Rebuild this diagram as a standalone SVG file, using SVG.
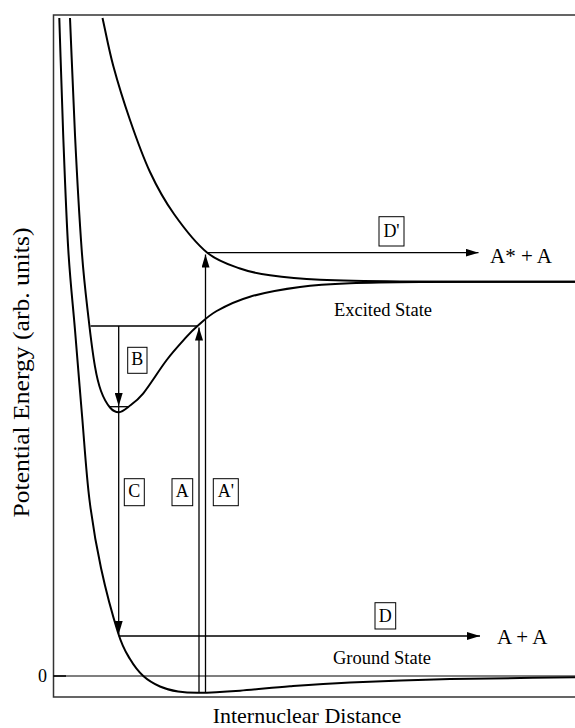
<svg xmlns="http://www.w3.org/2000/svg" width="575" height="728" viewBox="0 0 575 728">
<style>
text{font-family:"Liberation Serif","Times New Roman",serif;fill:#000}
.curve{fill:none;stroke:#000;stroke-width:2}
.ln{fill:none;stroke:#000;stroke-width:1.3}
.arr{fill:none;stroke:#000;stroke-width:1.3;marker-end:url(#ah)}
.box{fill:#fff;stroke:#000;stroke-width:1}
.lbl{font-size:18px;text-anchor:middle}
.big{font-size:21px}
.state{font-size:18.5px;text-anchor:middle}
</style>
<defs>
<marker id="ah" markerWidth="14" markerHeight="8" refX="13" refY="4" orient="auto" markerUnits="userSpaceOnUse"><path d="M0,0 L13,4 L0,8 z" fill="#000"/></marker>
</defs>
<rect width="575" height="728" fill="#fff"/>
<g id="frame">
<path d="M575,15 H53.5 V697 H575" fill="none" stroke="#333" stroke-width="1.5"/>
<line x1="53.5" y1="676" x2="575" y2="676" stroke="#000" stroke-width="1.2"/>
<line x1="53.5" y1="676" x2="66" y2="676" stroke="#000" stroke-width="1.5"/>
<text x="47" y="682" font-size="18" text-anchor="end">0</text>
<text transform="translate(28.5,372.5) rotate(-90)" font-size="23" text-anchor="middle" textLength="290" lengthAdjust="spacingAndGlyphs">Potential Energy (arb. units)</text>
<text x="307" y="722.5" font-size="22" text-anchor="middle">Internuclear Distance</text>
</g>
<g id="ground-state">
<path class="curve" d="M59.3,18 C60.6,57 61.7,96.3 63.2,135 S66.3,217.5 68.3,250 S72.7,302.5 75,330 S79.6,386.7 82,415 S86.3,474.5 89.5,500 S96.2,545.8 101,568 S113.5,618.3 118.3,633.5 S125.8,651.9 130,659 S138.3,671.4 143.3,676 S154.2,683.9 160,686.5 S171.5,690.5 178,691.5 S188.7,692.9 199,692.8 S224.8,691.8 240,690.7 S271.7,687.7 290,686.3 S323.3,683.7 350,682.5 S412.5,679.9 450,679 S533.3,677.9 575,677.3"/>
<text class="state" x="382" y="664">Ground State</text>
</g>
<g id="excited-state">
<path class="curve" d="M70,18 C71.7,57 73.1,96.3 75,135 S79.5,219.5 81.7,250 S86.3,298.6 88.5,318 S92.9,354.5 95,366.7 S98.5,384.2 101,391 S107,404 110,407.5 S116,412.4 119,412.3 S124.3,410.2 128.3,407 S136.9,401.1 143.3,393.3 S159.5,369.4 166.7,360 S181.6,342.4 186.7,336.7 S192.5,330.3 197.5,326 S208,315.9 216.7,311 S236.1,300.7 250,296.7 S283.3,289.2 300,287 S330,284.1 350,283.3 S382.5,282.3 420,282 S523.3,281.8 575,281.7"/>
<text class="state" x="383" y="315.5">Excited State</text>
</g>
<g id="repulsive-state">
<path class="curve" d="M102.5,18 C106.1,34 108.7,49 113.3,66 S123.9,102.3 130,120 S142.7,156.3 150,172 S164.5,200.6 174,214 S196,243.4 207,252.5 S229.5,264.7 240,268.5 S256.7,273.4 270,275.3 S298.3,278.8 320,279.8 S357.5,281.1 400,281.4 S516.7,281.6 575,281.7"/>
</g>
<g id="connectors">
<line class="ln" x1="90.5" y1="326" x2="197.5" y2="326"/>
<line class="ln" x1="110" y1="406.7" x2="128" y2="406.7"/>
<line class="arr" x1="118.7" y1="326" x2="118.7" y2="406"/>
<line class="arr" x1="118.7" y1="406.7" x2="118.7" y2="634"/>
<line class="arr" x1="118.7" y1="636" x2="480" y2="636"/>
<line class="arr" x1="199" y1="693" x2="199" y2="327.5"/>
<line class="arr" x1="205.5" y1="693" x2="205.5" y2="254.5"/>
<line class="arr" x1="207" y1="252.7" x2="478.5" y2="252.7"/>
</g>
<g id="label-B"><rect class="box" x="127.7" y="347.3" width="19.3" height="26"/><text class="lbl" x="137.3" y="365">B</text></g>
<g id="label-C"><rect class="box" x="124.3" y="478.7" width="20" height="27"/><text class="lbl" x="134.3" y="497">C</text></g>
<g id="label-A"><rect class="box" x="172" y="478.7" width="20.7" height="27"/><text class="lbl" x="182.3" y="497">A</text></g>
<g id="label-A-prime"><rect class="box" x="213.3" y="478.7" width="25" height="27"/><text class="lbl" x="225.8" y="497">A'</text></g>
<g id="label-D"><rect class="box" x="375" y="602.7" width="20.7" height="26.3"/><text class="lbl" x="385.3" y="621.5">D</text></g>
<g id="label-D-prime"><rect class="box" x="379" y="216.7" width="25" height="29.3"/><text class="lbl" x="391.5" y="237.3" font-size="20">D'</text></g>
<g id="products">
<text class="big" x="490" y="262.7">A* + A</text>
<text class="big" x="497" y="644">A + A</text>
</g>
</svg>
